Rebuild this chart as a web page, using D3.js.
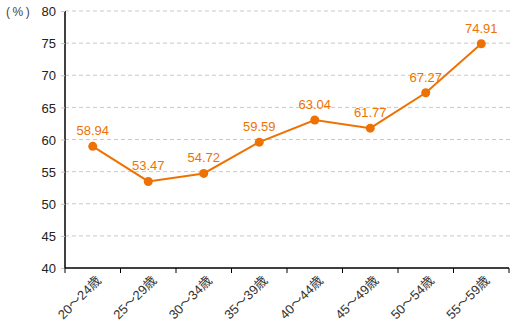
<!DOCTYPE html>
<html>
<head>
<meta charset="utf-8">
<script src="https://cdn.jsdelivr.net/npm/d3@7"></script>
<style>
  html, body { margin: 0; padding: 0; background: #fff; }
  svg text { font-family: "Liberation Sans", Arial, "Noto Sans CJK JP", sans-serif; }
</style>
</head>
<body>
<svg id="chart" width="520" height="325"></svg>
<script>
// Age groups and rates (%)
const categories = ["20～24歳", "25～29歳", "30～34歳", "35～39歳", "40～44歳", "45～49歳", "50～54歳", "55～59歳"];
const values = [58.94, 53.47, 54.72, 59.59, 63.04, 61.77, 67.27, 74.91];
const yTicks = [40, 45, 50, 55, 60, 65, 70, 75, 80];
const unitLabel = "(%)";

const svg = d3.select("#chart");
const plotLeft = 65, plotRight = 509, plotTop = 11, plotBottom = 268;
const orange = "#EE7203";

const x = d3.scaleBand().domain(categories).range([plotLeft, plotRight]).padding(0);
const y = d3.scaleLinear().domain([40, 80]).range([plotBottom, plotTop]);

// Dashed horizontal gridlines
svg.append("g")
  .selectAll("line")
  .data(yTicks.filter(d => d > 40))
  .join("line")
  .attr("x1", plotLeft).attr("x2", plotRight + 1)
  .attr("y1", d => y(d)).attr("y2", d => y(d))
  .attr("stroke", "#c8c8c8")
  .attr("stroke-dasharray", "4,3")
  .attr("stroke-width", 1);

// Y axis
const yAxis = svg.append("g")
  .attr("transform", `translate(${plotLeft},0)`)
  .call(d3.axisLeft(y).tickValues(yTicks).tickSize(6).tickPadding(3));
yAxis.select(".domain").attr("stroke", "#000").attr("stroke-width", 1.5).attr("d", `M0,${plotTop}V${plotBottom}`);
yAxis.selectAll(".tick line").attr("stroke", "#c8c8c8").attr("stroke-dasharray", "4,3");
yAxis.selectAll(".tick text").attr("font-size", 13).attr("fill", "#222").attr("dy", "0.36em");

svg.append("text")
  .attr("x", 6).attr("y", y(80) + 4.5)
  .attr("font-size", 12).attr("fill", "#444")
  .attr("letter-spacing", 2.5)
  .text(unitLabel);

// X axis with ticks on band boundaries
const xAxisG = svg.append("g").attr("transform", `translate(0,${plotBottom})`);
xAxisG.append("line")
  .attr("x1", plotLeft).attr("x2", plotRight)
  .attr("stroke", "#000").attr("stroke-width", 1.5);
const bounds = categories.map(c => x(c)).concat([x(categories[categories.length - 1]) + x.bandwidth()]);
xAxisG.selectAll("line.tk")
  .data(bounds)
  .join("line")
  .attr("class", "tk")
  .attr("x1", d => d).attr("x2", d => d)
  .attr("y1", 0).attr("y2", 5)
  .attr("stroke", "#000").attr("stroke-width", 1);
xAxisG.selectAll("text")
  .data(categories)
  .join("text")
  .attr("transform", d => `translate(${x(d) + x.bandwidth() / 2 + 6},${10}) rotate(-45)`)
  .attr("text-anchor", "end")
  .attr("dy", "0.35em")
  .attr("font-size", 13)
  .attr("fill", "#333")
  .text(d => d);

// Line and markers
const cx = d => x(d) + x.bandwidth() / 2;
const line = d3.line().x((d, i) => cx(categories[i])).y(d => y(d));
svg.append("path")
  .datum(values)
  .attr("d", line)
  .attr("fill", "none")
  .attr("stroke", orange)
  .attr("stroke-width", 2);

svg.append("g")
  .selectAll("circle")
  .data(values)
  .join("circle")
  .attr("cx", (d, i) => cx(categories[i]))
  .attr("cy", d => y(d))
  .attr("r", 4.5)
  .attr("fill", orange);

// Value labels
svg.append("g")
  .selectAll("text")
  .data(values)
  .join("text")
  .attr("x", (d, i) => cx(categories[i]))
  .attr("y", d => y(d) - 11)
  .attr("text-anchor", "middle")
  .attr("font-size", 13)
  .attr("fill", orange)
  .text(d => d.toFixed(2));
</script>
</body>
</html>
